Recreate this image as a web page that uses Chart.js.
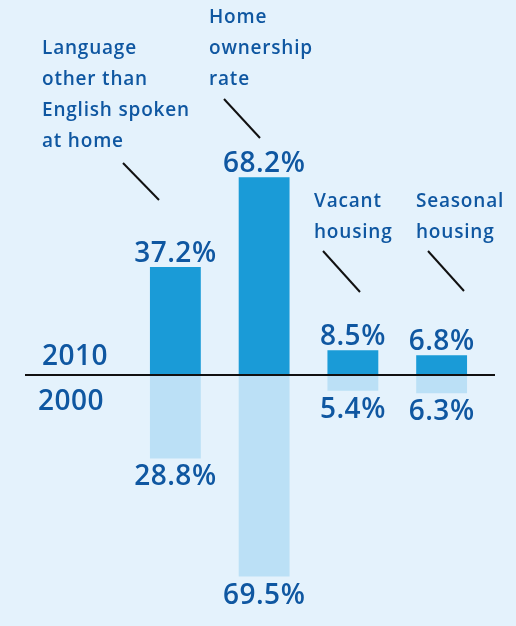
<!DOCTYPE html>
<html>
<head>
<meta charset="utf-8">
<script src="https://cdn.jsdelivr.net/npm/chart.js@4.4.1/dist/chart.umd.min.js"></script>
<style>
    html, body { margin: 0; padding: 0; background: #e4f2fc; }
    #censusChart { display: block; }
</style>
</head>
<body>
<canvas id="censusChart" width="516" height="626"></canvas>
<script>
const categories = ["Language other than English spoken at home", "Home ownership rate", "Vacant housing", "Seasonal housing"];
const categoryLines = [
    ["Language", "other than", "English spoken", "at home"],
    ["Home", "ownership", "rate"],
    ["Vacant", "housing"],
    ["Seasonal", "housing"]
];
const yearLabels = ["2010", "2000"];
const values2010 = [37.2, 68.2, 8.5, 6.8];
const values2000 = [28.8, 69.5, 5.4, 6.3];

// where each category caption sits, and its leader line
const captionLayout = [
    { x: 42, y: 49, line: [123, 163, 159, 200] },
    { x: 209, y: 18, line: [224, 99, 260, 138] },
    { x: 314, y: 202, line: [323, 251, 360, 292] },
    { x: 416, y: 202, line: [428, 251, 464, 291] }
];

const textBlue = "#0f57a1";
const fontName = "'Open Sans', sans-serif";

const labelPlugin = {
    id: "infographic",
    afterDatasetsDraw(chart) {
        const c = chart.ctx;
        const zeroY = chart.scales.y.getPixelForValue(0);
        c.save();

        // baseline
        c.strokeStyle = "#111";
        c.lineWidth = 2;
        c.beginPath();
        c.moveTo(25, zeroY);
        c.lineTo(495, zeroY);
        c.stroke();

        // value labels
        c.fillStyle = textBlue;
        c.font = "600 28px " + fontName;
        c.letterSpacing = "0.5px";
        c.textAlign = "center";
        chart.getDatasetMeta(0).data.forEach((bar, i) => {
            c.textBaseline = "alphabetic";
            c.fillText(values2010[i].toFixed(1) + "%", bar.x, bar.y - 5);
        });
        chart.getDatasetMeta(1).data.forEach((bar, i) => {
            c.textBaseline = "top";
            c.fillText(values2000[i].toFixed(1) + "%", bar.x, bar.y + 5);
        });

        // year labels
        c.textAlign = "left";
        c.textBaseline = "alphabetic";
        c.fillText(yearLabels[0], 42, zeroY - 10);
        c.textBaseline = "top";
        c.fillText(yearLabels[1], 38, zeroY + 13);

        // captions and leader lines
        c.font = "600 19px " + fontName;
        c.letterSpacing = "0.8px";
        c.textBaseline = "middle";
        categoryLines.forEach((lines, i) => {
            const pos = captionLayout[i];
            lines.forEach((t, j) => c.fillText(t, pos.x, pos.y + j * 30.7));
            c.strokeStyle = "#111";
            c.lineWidth = 2;
            c.beginPath();
            c.moveTo(pos.line[0], pos.line[1]);
            c.lineTo(pos.line[2], pos.line[3]);
            c.stroke();
        });
        c.restore();
    }
};

const pxPerUnit = 2.9;

new Chart(document.getElementById("censusChart").getContext("2d"), {
    type: "bar",
    data: {
        labels: categories,
        datasets: [{
            label: yearLabels[0],
            data: values2010,
            backgroundColor: "#1a9bd7",
            borderWidth: 0
        }, {
            label: yearLabels[1],
            data: values2000.map(v => -v),
            backgroundColor: "#bbe0f6",
            borderWidth: 0
        }]
    },
    options: {
        responsive: false,
        animation: false,
        layout: {
            padding: { left: 131, right: 30, top: 0, bottom: 0 }
        },
        categoryPercentage: 1,
        barPercentage: 0.573,
        scales: {
            x: { stacked: true, display: false },
            y: {
                stacked: true,
                display: false,
                min: -251 / pxPerUnit,
                max: 375 / pxPerUnit
            }
        },
        plugins: {
            legend: { display: false },
            tooltip: { enabled: false }
        }
    },
    plugins: [labelPlugin]
});
</script>
</body>
</html>
